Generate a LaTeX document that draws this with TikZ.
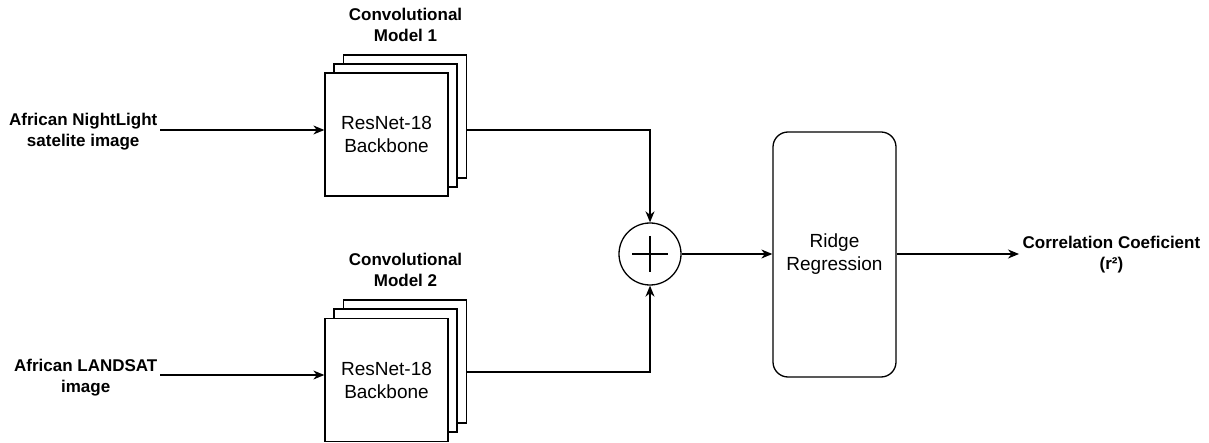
\documentclass[tikz,border=0pt]{standalone}
\usepackage{fontspec}
\setmainfont{Liberation Sans}
\usetikzlibrary{arrows.meta,calc}
\begin{document}
\begin{tikzpicture}[x=1pt,y=-1pt,
  line width=1.3pt,
  arr/.style={-{Stealth[length=11pt,width=9pt,inset=3.5pt]}},
  card/.style={draw,fill=white,minimum width=123pt,minimum height=123pt,inner sep=0pt,font=\fontsize{19}{23}\selectfont,align=center},
  lbl/.style={font=\bfseries\fontsize{17}{21}\selectfont,align=center,inner sep=0pt},
  ridge/.style={draw,rounded corners=15pt,minimum width=123pt,minimum height=245pt,inner sep=0pt,font=\fontsize{19}{23}\selectfont,align=center},
  sumc/.style={draw,circle,minimum size=62pt,inner sep=0pt}]
\useasboundingbox (0,0) rectangle (1209,443);
% model 1 stack
\node[card] (b1) at (405,116.5) {};
\node[card] (m1) at (395.5,125.5) {};
\node[card] (f1) at (386.5,134.5) {ResNet-18\\Backbone};
\node[lbl] (t1) at (405.5,24.5) {Convolutional\\Model 1};
% model 2 stack
\node[card] (b2) at (405,361.5) {};
\node[card] (m2) at (395.5,370.5) {};
\node[card] (f2) at (386.5,380) {ResNet-18\\Backbone};
\node[lbl] (t2) at (405.5,270) {Convolutional\\Model 2};
% inputs
\node[lbl,anchor=east] (in1) at (158,132) {African NightLight\\satelite image};
\node[lbl,anchor=east] (in2) at (158,378) {African LANDSAT\\image};
\coordinate (s1) at (160,130);
\coordinate (s2) at (160,375);
\draw[arr] (s1) -- (f1.west |- s1);
\draw[arr] (s2) -- (f2.west |- s2);
% sum
\node[sumc] (sum) at (650,254) {};
\draw[line width=2pt] ($(sum.center)+(-18,0)$) -- ($(sum.center)+(18,0)$);
\draw[line width=2pt] ($(sum.center)+(0,-18)$) -- ($(sum.center)+(0,18)$);
\coordinate (o1) at (467,130);
\coordinate (o2) at (467,372);
\draw[arr] (o1) -| (sum.north);
\draw[arr] (o2) -| (sum.south);
% ridge
\node[ridge] (rr) at (834.5,254.5) {Ridge\\Regression};
\draw[arr] (sum.east) -- (sum.east -| rr.west);
\node[lbl,anchor=west] (out) at (1022,255) {Correlation Coeficient\\(r²)};
\coordinate (oe) at (1019,254);
\draw[arr] (rr.east |- sum.east) -- (oe);
\end{tikzpicture}
\end{document}
